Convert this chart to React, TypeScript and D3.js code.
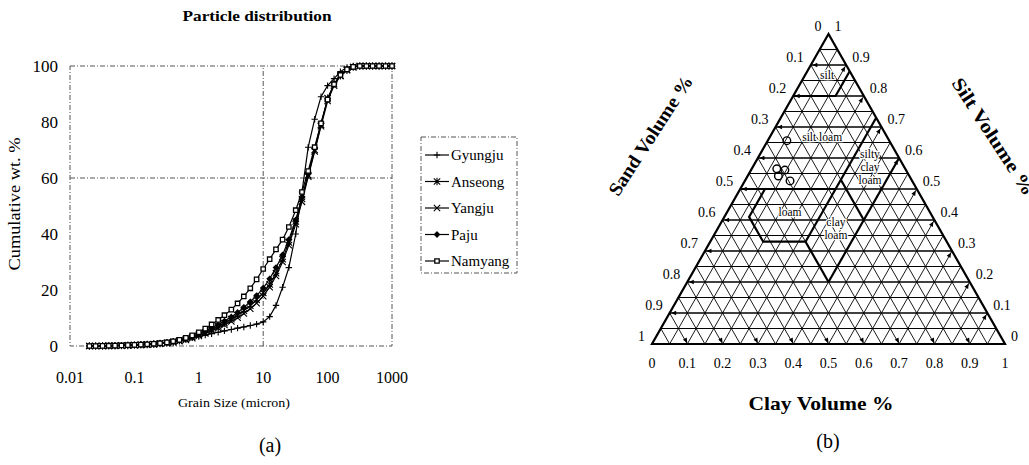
import React from 'react';
import * as d3 from 'd3';

// ---------- Data: (a) particle distribution ----------
const grainSizes = [0.02, 0.025, 0.032, 0.04, 0.05, 0.063, 0.079, 0.1, 0.126, 0.158, 0.2, 0.25, 0.32, 0.4, 0.5, 0.63, 0.79, 1, 1.26, 1.58, 2, 2.5, 3.2, 4, 5, 6.3, 7.9, 10, 12.6, 15.8, 20, 25, 32, 40, 50, 63, 79, 100, 126, 158, 200, 250, 316, 400, 500, 630, 794, 1000];
const gyungju = [0, 0.05, 0.1, 0.15, 0.2, 0.3, 0.4, 0.5, 0.6, 0.75, 0.9, 1.1, 1.35, 1.65, 2.0, 2.4, 2.9, 3.4, 3.9, 4.4, 4.9, 5.4, 5.9, 6.4, 6.8, 7.3, 7.8, 8.6, 10.5, 14.5, 21, 28, 40, 55, 71, 81, 89, 93, 95.5, 98, 99.5, 100, 100, 100, 100, 100, 100, 100];
const anseong = [0, 0, 0, 0.05, 0.1, 0.15, 0.2, 0.3, 0.4, 0.5, 0.65, 0.85, 1.1, 1.45, 1.9, 2.5, 3.2, 4.0, 4.9, 5.9, 7.0, 8.2, 9.6, 11.0, 12.6, 14.4, 16.5, 19.0, 22.0, 26.0, 31, 37, 44.5, 52.5, 61, 70, 79, 88.5, 93.5, 96.5, 98.5, 99.6, 100, 100, 100, 100, 100, 100];
const yangju = [0, 0, 0.02, 0.05, 0.1, 0.15, 0.2, 0.3, 0.4, 0.5, 0.6, 0.8, 1.0, 1.3, 1.7, 2.2, 2.8, 3.6, 4.5, 5.4, 6.4, 7.5, 8.8, 10.1, 11.6, 13.3, 15.3, 17.8, 21.0, 25.0, 30, 36, 43.5, 51.5, 60.5, 69.5, 78.5, 87.5, 93, 96.5, 98.7, 99.6, 100, 100, 100, 100, 100, 100];
const paju = [0, 0, 0.03, 0.06, 0.12, 0.18, 0.25, 0.35, 0.45, 0.6, 0.75, 0.95, 1.2, 1.55, 2.0, 2.6, 3.4, 4.3, 5.3, 6.4, 7.6, 8.9, 10.4, 12.0, 13.8, 15.8, 18.0, 20.7, 24, 28, 32.5, 38, 45, 53, 61.5, 70.5, 79.5, 88, 93.5, 96.8, 98.8, 99.7, 100, 100, 100, 100, 100, 100];
const namyang = [0, 0, 0.05, 0.1, 0.15, 0.2, 0.3, 0.4, 0.5, 0.6, 0.8, 1.0, 1.3, 1.7, 2.2, 2.9, 3.8, 4.9, 6.2, 7.7, 9.3, 11.0, 13.0, 15.2, 17.7, 20.6, 23.8, 27.5, 31.0, 34.5, 38, 42.5, 48.5, 55, 62.5, 71, 79.5, 88, 93.5, 96.8, 98.8, 99.7, 100, 100, 100, 100, 100, 100];
const seriesNames = ['Gyungju', 'Anseong', 'Yangju', 'Paju', 'Namyang'];
const seriesValues = [gyungju, anseong, yangju, paju, namyang];
const seriesMarkers = ['plus', 'star', 'cross', 'diamond', 'square'];
const xTicks = [0.01, 0.1, 1, 10, 100, 1000];
const xTickLabels = ['0.01', '0.1', '1', '10', '100', '1000'];
const yTicks = [0, 20, 40, 60, 80, 100];

// ---------- Data: (b) ternary diagram ----------
const ternTicks = [0, 0.1, 0.2, 0.3, 0.4, 0.5, 0.6, 0.7, 0.8, 0.9, 1];
const ternTickLabels = ['0', '0.1', '0.2', '0.3', '0.4', '0.5', '0.6', '0.7', '0.8', '0.9', '1'];
const sampleClay = [0.054, 0.071, 0.096, 0.087, 0.128];
const sampleSilt = [0.656, 0.565, 0.561, 0.542, 0.526];
// texture boundaries as [clay, silt] pairs
const boundarySilt = [[0, 0.8], [0.12, 0.8], [0.12, 0.88]];
const boundaryLoamTop = [[0, 0.5], [0.27, 0.5]];
const boundaryLoam = [[0.07, 0.5], [0.07, 0.41], [0.15, 0.33], [0.27, 0.33]];
const boundaryClay27 = [[0.27, 0.33], [0.27, 0.73]];
const boundarySand20 = [[0.27, 0.53], [0.4, 0.4]];
const boundaryClay40 = [[0.4, 0.2], [0.4, 0.6]];
const boundarySand40 = [[0.27, 0.33], [0.4, 0.2]];
const regionLabels = [
  { text: ['silt'], c: 0.062, s: 0.868 },
  { text: ['silt loam'], c: 0.148, s: 0.668 },
  { text: ['silty', 'clay', 'loam'], c: 0.332, s: 0.571 },
  { text: ['loam'], c: 0.178, s: 0.426 },
  { text: ['clay', 'loam'], c: 0.334, s: 0.374 },
];

const SERIF = '"Liberation Serif", "DejaVu Serif", serif';

function markerPath(kind: string): string {
  const s = 3.2;
  switch (kind) {
    case 'plus':
      return `M${-s},0H${s}M0,${-s}V${s}`;
    case 'star':
      return `M${-s},${-s}L${s},${s}M${-s},${s}L${s},${-s}M0,${-s - 0.5}V${s + 0.5}`;
    case 'cross':
      return `M${-s},${-s}L${s},${s}M${-s},${s}L${s},${-s}`;
    case 'diamond':
      return `M0,-2.6L2.6,0L0,2.6L-2.6,0Z`;
    default:
      return `M-2.2,-2.2H2.2V2.2H-2.2Z`;
  }
}

function Marker({ kind, x, y }: { kind: string; x: number; y: number }) {
  const filled = kind === 'diamond';
  const sq = kind === 'square';
  return (
    <path
      d={markerPath(kind)}
      transform={`translate(${x},${y})`}
      fill={filled ? '#000' : sq ? '#fff' : 'none'}
      stroke="#000"
      strokeWidth={sq ? 1.3 : 1.1}
    />
  );
}

function arrowHead(tx: number, ty: number, dx: number, dy: number, len = 5, hw = 2.2) {
  const n = Math.hypot(dx, dy);
  const ux = dx / n, uy = dy / n;
  const bx = tx - ux * len, by = ty - uy * len;
  const px = -uy * hw, py = ux * hw;
  return `M${tx},${ty}L${bx + px},${by + py}L${bx - px},${by - py}Z`;
}

export default function App() {
  // ----- (a) -----
  const x = d3.scaleLog().domain([0.01, 1000]).range([70, 392]);
  const y = d3.scaleLinear().domain([0, 100]).range([346, 66]);
  const line = d3.line<number>().x((_, i) => x(grainSizes[i])).y((d) => y(d));
  const dash = '5,2,1,2';
  const legendX = 421, legendY = 137, legendW = 96, legendH = 136;

  // ----- (b) -----
  const clayScale = d3.scaleLinear().domain([0, 1]).range([652, 1005]);
  const siltScale = d3.scaleLinear().domain([0, 1]).range([344, 34]);
  const half = (clayScale(1) - clayScale(0)) / 2;
  const tern = (c: number, s: number): [number, number] => [clayScale(c) + s * half, siltScale(s)];
  const tline = d3.line<number[]>().x((d) => tern(d[0], d[1])[0]).y((d) => tern(d[0], d[1])[1]);
  const steps = d3.range(1, 20).map((i) => i / 20);
  const isMajor = (v: number) => Math.abs(v * 10 - Math.round(v * 10)) < 1e-6;

  const gridLines: JSX.Element[] = [];
  steps.forEach((v, i) => {
    const [ax, ay] = tern(0, v);
    const [bx, by] = tern(1 - v, v);
    gridLines.push(<line key={`h${i}`} x1={ax} y1={ay} x2={bx} y2={by} stroke="#000" strokeWidth={isMajor(v) ? 1.6 : 1.1} />);
    const [cx1, cy1] = tern(v, 0);
    const [cx2, cy2] = tern(v, 1 - v);
    gridLines.push(<line key={`c${i}`} x1={cx1} y1={cy1} x2={cx2} y2={cy2} stroke="#000" strokeWidth={0.9} />);
    const [sx1, sy1] = tern(1 - v, 0);
    const [sx2, sy2] = tern(0, 1 - v);
    gridLines.push(<line key={`s${i}`} x1={sx1} y1={sy1} x2={sx2} y2={sy2} stroke="#000" strokeWidth={0.9} />);
  });
  const arrows: string[] = [];
  ternTicks.slice(1, 10).forEach((v) => {
    const [lx, ly] = tern(0, v);
    arrows.push(arrowHead(lx + 1.5, ly, -1, 0));
    const [bx, by] = tern(1 - v, 0);
    arrows.push(arrowHead(bx, by - 1, half, siltScale(0) - siltScale(1)));
    const [rx, ry] = tern(v, 1 - v);
    arrows.push(arrowHead(rx - 1, ry + 1.5, half, -(siltScale(0) - siltScale(1))));
  });
  const boundaries = [boundarySilt, boundaryLoamTop, boundaryLoam, boundaryClay27, boundarySand20, boundaryClay40, boundarySand40];
  const [apx, apy] = tern(0, 1);
  const [blx, bly] = tern(0, 0);
  const [brx, bry] = tern(1, 0);

  return (
    <svg width={1029} height={465} style={{ position: 'absolute', left: 0, top: 0, background: '#fff' }} fontFamily={SERIF}>
      <rect x={0} y={0} width={1029} height={465} fill="#fff" />
      {/* ===== (a) ===== */}
      <text x={257} y={21} textAnchor="middle" fontWeight="bold" fontSize={14} textLength={149} lengthAdjust="spacingAndGlyphs">Particle distribution</text>
      <rect x={x(0.01)} y={y(100)} width={x(1000) - x(0.01)} height={y(0) - y(100)} fill="none" stroke="#555" strokeWidth={1} strokeDasharray={dash} />
      <line x1={x(0.01)} x2={x(1000)} y1={y(60)} y2={y(60)} stroke="#555" strokeDasharray={dash} />
      <line x1={x(10)} x2={x(10)} y1={y(0)} y2={y(100)} stroke="#555" strokeDasharray={dash} />
      {yTicks.map((t) => (
        <text key={t} x={58} y={y(t) + 6} textAnchor="end" fontSize={17}>{t}</text>
      ))}
      {xTicks.map((t, i) => (
        <text key={t} x={x(t)} y={383} textAnchor="middle" fontSize={16}>{xTickLabels[i]}</text>
      ))}
      <text transform={`translate(20,204) rotate(-90)`} textAnchor="middle" fontSize={16} textLength={133} lengthAdjust="spacingAndGlyphs">Cumulative wt. %</text>
      <text x={234} y={407} textAnchor="middle" fontSize={13} textLength={112} lengthAdjust="spacingAndGlyphs">Grain Size (micron)</text>
      <text x={270} y={452} textAnchor="middle" fontSize={20}>(a)</text>
      {seriesValues.map((vals, si) => (
        <g key={seriesNames[si]}>
          <path d={line(vals) || ''} fill="none" stroke="#000" strokeWidth={1.2} />
          {vals.map((v, i) => (
            <Marker key={i} kind={seriesMarkers[si]} x={x(grainSizes[i])} y={y(v)} />
          ))}
        </g>
      ))}
      <rect x={legendX} y={legendY} width={legendW} height={legendH} fill="#fff" stroke="#555" strokeDasharray={dash} />
      {seriesNames.map((n, i) => {
        const ly = legendY + 18 + i * 26.5;
        return (
          <g key={n}>
            <line x1={425} x2={449} y1={ly} y2={ly} stroke="#000" strokeWidth={1.2} />
            <Marker kind={seriesMarkers[i]} x={437} y={ly} />
            <text x={451} y={ly + 5} fontSize={15}>{n}</text>
          </g>
        );
      })}

      {/* ===== (b) ===== */}
      <g>{gridLines}</g>
      {boundaries.map((b, i) => (
        <path key={i} d={tline(b) || ''} fill="none" stroke="#000" strokeWidth={2.2} />
      ))}
      <path d={arrows.join('')} fill="#000" />
      <path d={`M${apx},${apy}L${blx},${bly}L${brx},${bry}Z`} fill="none" stroke="#000" strokeWidth={2.2} strokeLinejoin="miter" />
      {regionLabels.map((r, i) => {
        const [cx, cy] = tern(r.c, r.s);
        const n = r.text.length;
        return (
          <text key={i} x={cx} fontSize={11.5} textAnchor="middle" style={{ paintOrder: 'stroke' }} stroke="#fff" strokeWidth={2.5} fill="#000">
            {r.text.map((t, j) => (
              <tspan key={j} x={cx} y={cy + 4 + (j - (n - 1) / 2) * 13}>{t}</tspan>
            ))}
          </text>
        );
      })}
      {sampleClay.map((c, i) => {
        const [px, py] = tern(c, sampleSilt[i]);
        return <circle key={i} cx={px} cy={py} r={3.8} fill="none" stroke="#000" strokeWidth={1.4} />;
      })}
      {ternTicks.map((v, i) => {
        const [lx, ly] = tern(0, 1 - v);
        const [rx, ry] = tern(1 - v, v);
        const [bx, by] = tern(v, 0);
        return (
          <g key={i} fontSize={14}>
            <text x={lx - 7} y={ly - 3} textAnchor="end">{ternTickLabels[i]}</text>
            <text x={rx + 6} y={ry - 3}>{ternTickLabels[i]}</text>
            <text x={bx} y={by + 24} textAnchor="middle">{ternTickLabels[i]}</text>
          </g>
        );
      })}
      <text transform="translate(656,139) rotate(-57)" textAnchor="middle" fontWeight="bold" fontSize={19} textLength={139} lengthAdjust="spacingAndGlyphs">Sand Volume %</text>
      <text transform="translate(988,140) rotate(57)" textAnchor="middle" fontWeight="bold" fontSize={19} textLength={136} lengthAdjust="spacingAndGlyphs">Silt Volume %</text>
      <text x={821} y={410} textAnchor="middle" fontWeight="bold" fontSize={19} textLength={145} lengthAdjust="spacingAndGlyphs">Clay Volume %</text>
      <text x={828} y={448} textAnchor="middle" fontSize={20}>(b)</text>
    </svg>
  );
}
